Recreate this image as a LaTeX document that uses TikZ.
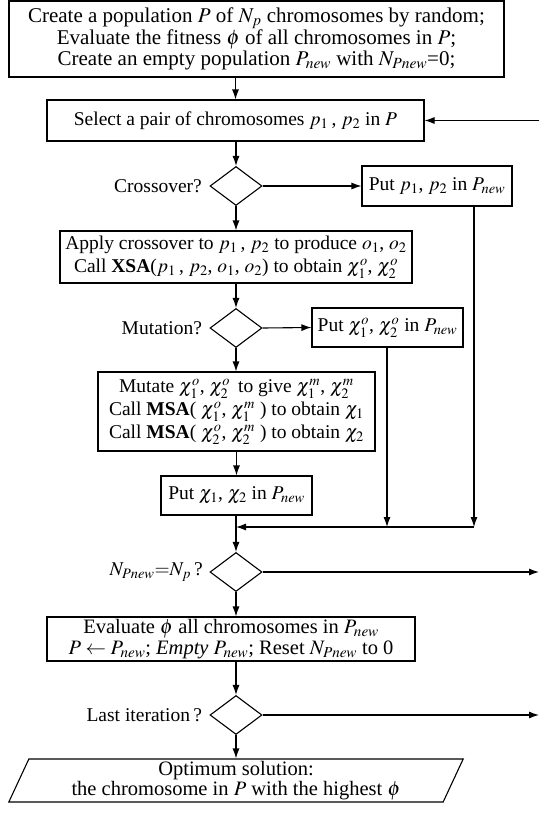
\documentclass[tikz,border=0pt]{standalone}
\usepackage{mathptmx}
\usepackage{fontspec}
\setmainfont{Liberation Serif}
\usetikzlibrary{arrows.meta,shapes.geometric,positioning}
\begin{document}
\begin{tikzpicture}[x=1pt,y=-1pt,>={Latex[length=10pt,width=7pt]},line width=1.1pt,
  box/.style={draw,align=center,inner sep=0pt,font=\fontsize{19.5}{20}\selectfont},
  tall/.style={font=\fontsize{19.5}{23}\selectfont},
  big/.style={font=\fontsize{20.5}{20.5}\selectfont},
  dec/.style={draw,diamond,minimum width=52pt,minimum height=39pt,inner sep=0pt},
  lab/.style={inner sep=0pt,font=\fontsize{19.5}{20}\selectfont}]
\useasboundingbox (0,0) rectangle (539,815);
% main column
\node[box,font=\fontsize{21}{21}\selectfont,minimum width=495pt,minimum height=76pt](init) at (256.5,39)
  {Create a population $P$ of $N_p$ chromosomes by random;\\
   Evaluate the fitness $\phi$ of all chromosomes in $P$;\\
   Create an empty population $P_{new}$ with $N_{Pnew}$=0;};
\node[box,minimum width=377pt,minimum height=41pt](select) at (235.5,120.5)
  {Select a pair of chromosomes $p_1$\,, $p_2$ in $P$};
\node[dec](xdec) at (236,186){};
\node[lab,left=7pt of xdec]{Crossover?};
\node[box,minimum width=150pt,minimum height=40pt](putp) at (437,186)
  {Put $p_1$, $p_2$ in $P_{new}$};
\node[box,tall,minimum width=352pt,minimum height=52pt](cross) at (236,257)
  {Apply crossover to $p_1$\,, $p_2$ to produce $o_1$, $o_2$\\
   Call \textbf{XSA}($p_1$\,, $p_2$, $o_1$, $o_2$) to obtain $\chi_1^o$, $\chi_2^o$};
\node[dec](mdec) at (236,328){};
\node[lab,left=7pt of mdec]{Mutation?};
\node[box,minimum width=151pt,minimum height=39pt](putx) at (387.5,327.5)
  {Put $\chi_1^o$, $\chi_2^o$ in $P_{new}$};
\node[box,tall,minimum width=277pt,minimum height=79pt](mut) at (236.5,411.5)
  {Mutate $\chi_1^o$, $\chi_2^o$\, to give $\chi_1^m$, $\chi_2^m$\\
   Call \textbf{MSA}( $\chi_1^o$, $\chi_1^m$ ) to obtain $\chi_1$\\
   Call \textbf{MSA}( $\chi_2^o$, $\chi_2^m$ ) to obtain $\chi_2$};
\node[box,minimum width=151pt,minimum height=39pt](putc) at (236.5,495.5)
  {Put $\chi_1$, $\chi_2$ in $P_{new}$};
\node[dec](ndec) at (236,572){};
\node[lab,left=6pt of ndec]{$N_{Pnew}{=}N_p$\,?};
\node[box,big,minimum width=368pt,minimum height=44pt](eval) at (231,639)
  {Evaluate $\phi$ all chromosomes in $P_{new}$\\
   $P\leftarrow P_{new}$; \textit{Empty} $P_{new}$; Reset $N_{Pnew}$ to 0};
\node[dec](ldec) at (236,715){};
\node[lab,left=7pt of ldec]{Last iteration\,?};
\node[box,big,trapezium,trapezium left angle=68,trapezium right angle=112,
  trapezium stretches=true,minimum width=456pt,minimum height=43pt](opt) at (236,780.5)
  {Optimum solution:\\the chromosome in $P$ with the highest $\phi$};
% joins and loose ends
\coordinate (j1) at (474,527);
\coordinate (j2) at (387,527);
\coordinate (j0) at (236,527);
\coordinate (back) at (539,120.5);
\coordinate (outn) at (539,572);
\coordinate (outl) at (539,715);
% connectors
\draw[->](init.south -| select.north)--(select.north);
\draw[->](back)--(select.east);
\draw[->](select.south -| xdec.north)--(xdec.north);
\draw[->](xdec.east)--(putp.west);
\draw[->](xdec.south)--(cross.north -| xdec.south);
\draw[->](cross.south -| mdec.north)--(mdec.north);
\draw[->](mdec.east)--(putx.west);
\draw[->](mdec.south)--(mut.north -| mdec.south);
\draw[->](mut.south -| putc.north)--(putc.north);
\draw[->](putp.south -| j1)--(j1);
\draw[->](putx.south -| j2)--(j2);
\draw[->](j1)--(j0);
\draw[->](putc.south -| ndec.north)--(ndec.north);
\draw[->](ndec.east)--(outn);
\draw[->](ndec.south)--(eval.north -| ndec.south);
\draw[->](eval.south -| ldec.north)--(ldec.north);
\draw[->](ldec.east)--(outl);
\draw[->](ldec.south)--(opt.north -| ldec.south);
\end{tikzpicture}
\end{document}
